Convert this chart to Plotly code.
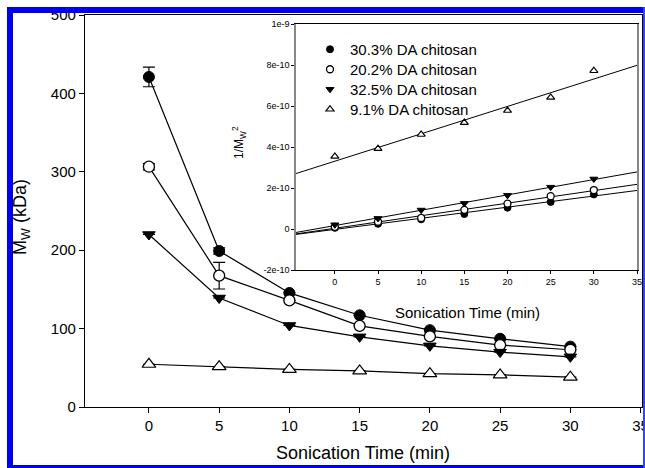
import numpy as np
import plotly.graph_objects as go

# ---------------- data ----------------
time_min = [0, 5, 10, 15, 20, 25, 30]

series_names = ["30.3% DA chitosan", "20.2% DA chitosan", "32.5% DA chitosan", "9.1% DA chitosan"]

# main plot: Mw (kDa)
mw_303 = [421, 199, 145.5, 117, 98, 87, 77]
mw_202 = [306.5, 167.5, 136, 103.5, 90, 79, 73]
mw_325 = [220, 139, 104, 89.5, 78, 70, 64]
mw_91 = [54.5, 51.5, 48, 46, 42.5, 41, 38]

err_303 = [12.5, 4, None, None, None, None, None]
err_202 = [4, 17, None, None, None, None, None]
err_325 = [None] * 7
err_91 = [None] * 7

# inset: 1/Mw^2
inv_303 = [0.056e-10, 0.253e-10, 0.472e-10, 0.731e-10, 1.041e-10, 1.321e-10, 1.687e-10]
inv_202 = [0.106e-10, 0.356e-10, 0.542e-10, 0.935e-10, 1.240e-10, 1.602e-10, 1.900e-10]
inv_325 = [0.207e-10, 0.518e-10, 0.925e-10, 1.248e-10, 1.644e-10, 2.041e-10, 2.441e-10]
inv_91 = [3.54e-10, 3.92e-10, 4.61e-10, 5.19e-10, 5.78e-10, 6.42e-10, 7.72e-10]

main_yticks = [0, 100, 200, 300, 400, 500]
xticks = [0, 5, 10, 15, 20, 25, 30, 35]
inset_yticks = [-2e-10, 0, 2e-10, 4e-10, 6e-10, 8e-10, 1e-9]
inset_yticktext = ["-2e-10", "0", "2e-10", "4e-10", "6e-10", "8e-10", "1e-9"]

# ---------------- layout helpers ----------------
W, H = 645, 468
def px(x):
    return x / W
def py(y):
    return 1 - y / H

FONT = "Liberation Sans, Arial, Helvetica, sans-serif"

main_x_range = [-4.55, 35.1]
inset_x_range = [-4.5, 35]

styles = [
    dict(symbol="circle", color="black", line=dict(color="black", width=1)),
    dict(symbol="circle", color="white", line=dict(color="black", width=1.3)),
    dict(symbol="triangle-down", color="black", line=dict(color="black", width=1)),
    dict(symbol="triangle-up", color="white", line=dict(color="black", width=1.2)),
]
main_sizes = [11, 11, 11, 12]
inset_sizes = [7, 7, 7, 7]
legend_ids = ["legend", "legend2", "legend3", "legend4"]
legend_tops = [33, 53, 73, 93]

fig = go.Figure()

main_data = [(mw_303, err_303), (mw_202, err_202), (mw_325, err_325), (mw_91, err_91)]
for (vals, errs), st, sz, name in zip(main_data, styles, main_sizes, series_names):
    fig.add_trace(go.Scatter(
        x=time_min, y=vals, mode="lines+markers", name=name, showlegend=False,
        line=dict(color="black", width=1.2),
        marker=dict(size=sz, **st),
        error_y=dict(type="data", array=errs, visible=True, color="black", thickness=1.2, width=6),
        xaxis="x", yaxis="y",
    ))

inset_data = [inv_303, inv_202, inv_325, inv_91]
fit_x = np.array(inset_x_range)
for vals in inset_data:
    slope, icpt = np.polyfit(time_min, vals, 1)
    fig.add_trace(go.Scatter(
        x=fit_x, y=icpt + slope * fit_x, mode="lines", showlegend=False,
        line=dict(color="black", width=1), xaxis="x2", yaxis="y2", hoverinfo="skip",
    ))
for vals, st, sz, name, lg in zip(inset_data, styles, inset_sizes, series_names, legend_ids):
    fig.add_trace(go.Scatter(
        x=time_min, y=vals, mode="markers", name=name, showlegend=True, legend=lg,
        marker=dict(size=sz, **st), xaxis="x2", yaxis="y2",
    ))

axis_common = dict(showgrid=False, zeroline=False, showline=True, linecolor="black",
                   linewidth=1.2, ticks="outside", tickcolor="black")

legend_layouts = {}
for lg, top in zip(legend_ids, legend_tops):
    legend_layouts[lg] = dict(x=px(310), y=py(top), xanchor="left", yanchor="top",
                              bgcolor="rgba(0,0,0,0)", font=dict(size=15), itemclick=False)

fig.update_layout(
    width=W, height=H,
    margin=dict(l=0, r=0, t=0, b=0, autoexpand=False),
    paper_bgcolor="white", plot_bgcolor="white",
    font=dict(family=FONT, color="black"),
    xaxis=dict(domain=[px(85), px(642)], range=main_x_range, tickvals=xticks,
               ticklen=5, tickfont=dict(size=15), mirror=True, anchor="y",
               ticklabeloverflow="allow", **axis_common),
    yaxis=dict(domain=[py(407), py(15)], range=[0, 500], tickvals=main_yticks,
               ticklen=5, tickfont=dict(size=15), mirror=True, anchor="x", **axis_common),
    xaxis2=dict(domain=[px(296), px(637)], range=inset_x_range, tickvals=xticks,
                ticklen=3, tickfont=dict(size=9), mirror=True, anchor="y2",
                showgrid=False, zeroline=False, showline=True, linecolor="black",
                linewidth=1, ticks="outside", tickcolor="black"),
    yaxis2=dict(domain=[py(270), py(24)], range=[-2e-10, 1e-9], tickvals=inset_yticks,
                ticktext=inset_yticktext, ticklen=3, tickfont=dict(size=9), mirror=True,
                anchor="x2", showgrid=False, zeroline=False, showline=True,
                linecolor="#888888", linewidth=1.5, ticks="outside", tickcolor="black"),
    showlegend=True,
    **legend_layouts,
)

# white background behind inset
fig.add_shape(type="rect", xref="paper", yref="paper", x0=px(296), x1=px(637),
              y0=py(270), y1=py(24), fillcolor="white", line=dict(width=0), layer="below")

# titles
fig.add_annotation(text="M<sub>W</sub> (kDa)", xref="paper", yref="paper",
                   x=px(21), y=py(217), textangle=-90, showarrow=False,
                   font=dict(size=18), xanchor="center", yanchor="middle")
fig.add_annotation(text="Sonication Time (min)", xref="paper", yref="paper",
                   x=px(363), y=py(453), showarrow=False,
                   font=dict(size=18), xanchor="center", yanchor="middle")
fig.add_annotation(text="Sonication Time (min)", xref="paper", yref="paper",
                   x=px(467), y=py(312), showarrow=False,
                   font=dict(size=15), xanchor="center", yanchor="middle")
fig.add_annotation(text="1/M<sub>W</sub><sup>2</sup>", xref="paper", yref="paper",
                   x=px(239), y=py(143), textangle=-90, showarrow=False,
                   font=dict(size=12), xanchor="center", yanchor="middle")

# blue scan border
blue = "#0000ee"
fig.add_shape(type="rect", xref="paper", yref="paper", x0=px(7), x1=px(13), y0=py(468), y1=py(7),
              fillcolor=blue, line=dict(width=0), layer="above")
fig.add_shape(type="rect", xref="paper", yref="paper", x0=px(7), x1=px(645), y0=py(13), y1=py(7),
              fillcolor=blue, line=dict(width=0), layer="above")
fig.add_shape(type="rect", xref="paper", yref="paper", x0=px(7), x1=px(645), y0=py(468), y1=py(465),
              fillcolor=blue, line=dict(width=0), layer="above")
fig.add_shape(type="rect", xref="paper", yref="paper", x0=px(643), x1=px(645), y0=py(468), y1=py(7),
              fillcolor="#3344ff", line=dict(width=0), layer="above")

fig.write_html("out.html", config={"displayModeBar": False},
               post_script="document.body.style.margin='0px';document.body.style.overflow='hidden';")
